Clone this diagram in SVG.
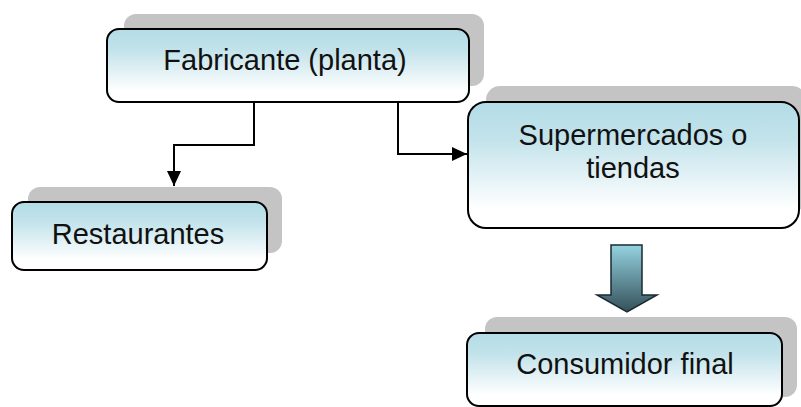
<svg xmlns="http://www.w3.org/2000/svg" width="801" height="407" viewBox="0 0 801 407">
<style>
.shadow{fill:#c4c4c4;}
.box{fill:url(#boxGrad);stroke:#000;stroke-width:2;}
.lbl{font-family:"Liberation Sans",Arial,sans-serif;font-size:29px;fill:#111;text-anchor:middle;}
.conn{fill:none;stroke:#000;stroke-width:2;}
</style>
<defs>
<linearGradient id="boxGrad" x1="0" y1="0" x2="0" y2="1">
<stop offset="0" stop-color="#b3dce6"/>
<stop offset="0.3" stop-color="#c3e3eb"/>
<stop offset="0.85" stop-color="#ffffff"/>
<stop offset="1" stop-color="#ffffff"/>
</linearGradient>
<linearGradient id="arrowGrad" x1="0" y1="0" x2="0" y2="1">
<stop offset="0" stop-color="#94d3e0"/>
<stop offset="1" stop-color="#34505a"/>
</linearGradient>
<marker id="ah" markerWidth="16" markerHeight="14" refX="15" refY="7" orient="auto" markerUnits="userSpaceOnUse">
<path d="M0,0 L15,7 L0,14 Z" fill="#000"/>
</marker>
</defs>
<g id="connectors">
<path class="conn" d="M254,102 V145 H174 V186" marker-end="url(#ah)"/>
<path class="conn" d="M398,102 V154 H467" marker-end="url(#ah)"/>
<path d="M611,245 H642 V295 H657 L627,312 L597,295 H611 Z" fill="url(#arrowGrad)" stroke="#1a2a30" stroke-width="1.5"/>
</g>
<g id="fabricante">
<rect class="shadow" x="124" y="14" width="360" height="72" rx="12"/>
<rect class="box" x="107" y="29" width="362" height="73" rx="12"/>
<text class="lbl" x="285" y="70">Fabricante (planta)</text>
</g>
<g id="restaurantes">
<rect class="shadow" x="28" y="187" width="254" height="66" rx="12"/>
<rect class="box" x="12" y="202" width="255" height="68" rx="12"/>
<text class="lbl" x="138" y="244">Restaurantes</text>
</g>
<g id="supermercados">
<rect class="shadow" x="486" y="86" width="320" height="126" rx="14"/>
<rect class="box" x="468" y="102" width="331" height="126" rx="18"/>
<text class="lbl" x="633" y="145">Supermercados o</text>
<text class="lbl" x="633" y="178">tiendas</text>
</g>
<g id="consumidor">
<rect class="shadow" x="485" y="317" width="312" height="80" rx="12"/>
<rect class="box" x="467" y="333" width="315" height="73" rx="12"/>
<text class="lbl" x="625" y="374">Consumidor final</text>
</g>
</svg>
